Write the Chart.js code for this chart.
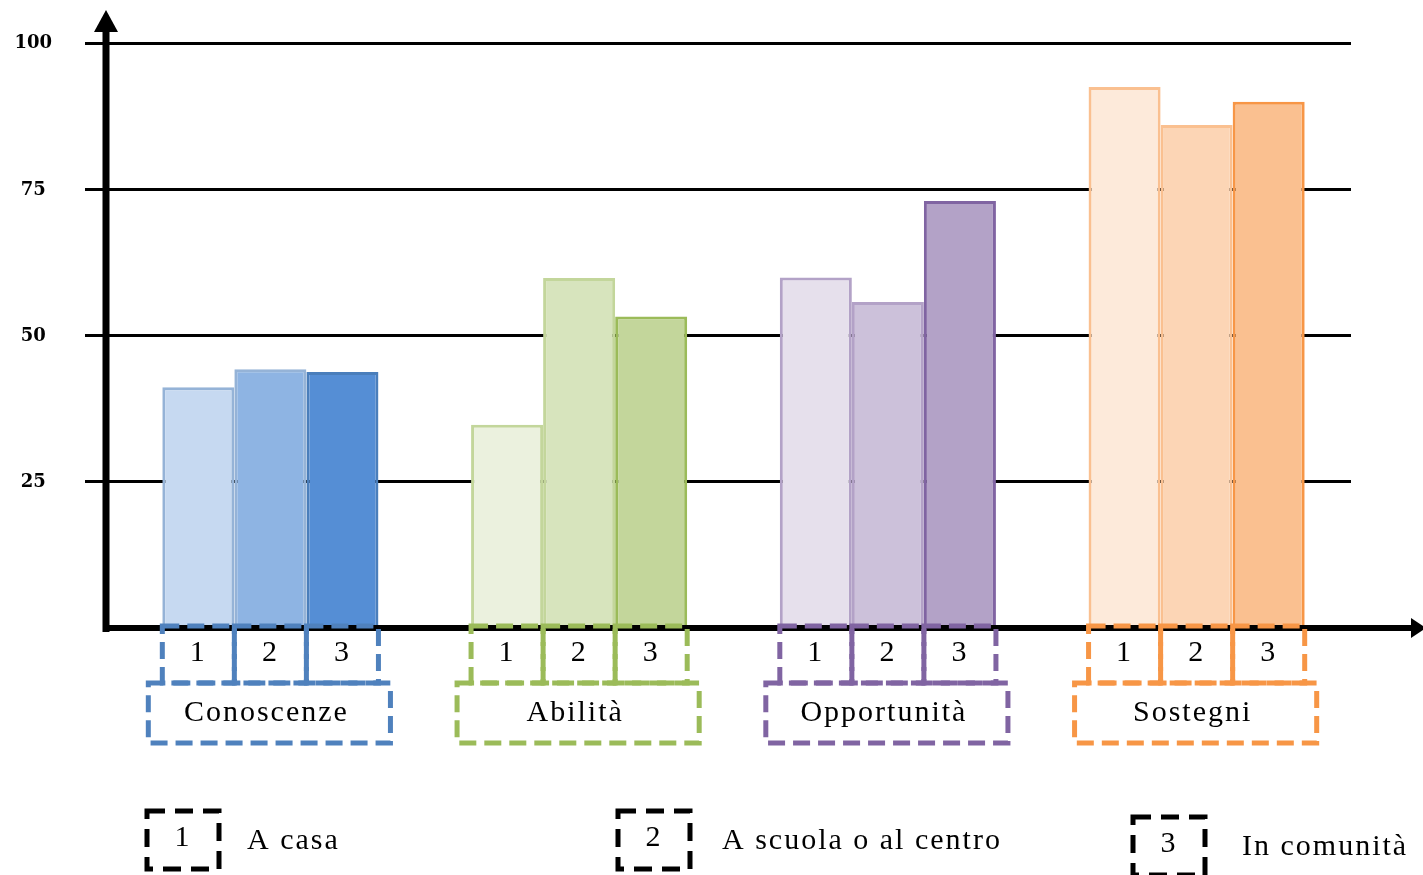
<!DOCTYPE html>
<html>
<head>
<meta charset="utf-8">
<script src="https://cdn.jsdelivr.net/npm/chart.js@4.4.0/dist/chart.umd.min.js"></script>
<style>
  html, body { margin: 0; padding: 0; background: #fff; }
  #wrap { width: 1423px; height: 875px; position: relative; }
</style>
</head>
<body>
<div id="wrap"><canvas id="chart"></canvas></div>
<script>
// categories and series
const categories = ['Conoscenze', 'Abilità', 'Opportunità', 'Sostegni'];
const seriesLabels = ['A casa', 'A scuola o al centro', 'In comunità'];
const aCasa = [41.2, 34.8, 60.0, 92.6];
const aScuola = [44.3, 59.9, 55.8, 86.1];
const inComunita = [43.8, 53.3, 73.1, 90.1];
const yTicks = [0, 25, 50, 75, 100];

// colours per category: light, mid, dark fill + outline colour
const fills = [
    ['#C6D9F1', '#8EB4E3', '#558ED5'],
    ['#EBF1DE', '#D7E4BD', '#C3D69B'],
    ['#E6E0EC', '#CCC1DA', '#B3A2C7'],
    ['#FDEADA', '#FCD5B5', '#FAC090']
];
const borders = [
    ['#95B3D7', '#95B3D7', '#4A7EBB'],
    ['#C3D69B', '#C3D69B', '#9BBB59'],
    ['#B3A2C7', '#B3A2C7', '#8064A2'],
    ['#FAC090', '#FAC090', '#F79646']
];
const dashColors = ['#4F81BD', '#9BBB59', '#8064A2', '#F79646'];

const serif = "'Liberation Serif', 'Times New Roman', serif";

function dashedBox(ctx, x, y, w, h, color, dash) {
    ctx.save();
    ctx.strokeStyle = color;
    ctx.lineWidth = 5;
    ctx.setLineDash(dash || [17, 8]);
    ctx.strokeRect(x, y, w, h);
    ctx.restore();
}

function label(ctx, text, x, y, align) {
    ctx.save();
    ctx.fillStyle = '#000';
    ctx.font = '30px ' + serif;
    ctx.letterSpacing = '2px';
    ctx.textAlign = align || 'center';
    ctx.textBaseline = 'middle';
    ctx.fillText(text, x, y);
    ctx.restore();
}

const decorations = {
    id: 'decorations',
    afterDraw(chart) {
        const ctx = chart.ctx;
        const area = chart.chartArea;
        const yAxisX = area.left - 10;

        // axes with arrow heads
        ctx.save();
        ctx.fillStyle = '#000';
        ctx.fillRect(yAxisX - 3.5, 28, 7, area.bottom - 24);
        ctx.beginPath();
        ctx.moveTo(yAxisX, 10);
        ctx.lineTo(yAxisX - 12, 32);
        ctx.lineTo(yAxisX + 12, 32);
        ctx.closePath();
        ctx.fill();
        ctx.fillRect(yAxisX - 3, area.bottom - 3, 1415 - yAxisX, 6);
        ctx.beginPath();
        ctx.moveTo(1426, area.bottom);
        ctx.lineTo(1411, area.bottom - 10);
        ctx.lineTo(1411, area.bottom + 10);
        ctx.closePath();
        ctx.fill();
        ctx.restore();

        // number boxes under each bar and category boxes
        const numTop = area.bottom - 2;
        const numH = 57;
        const catTop = numTop + numH;
        const catH = 60;
        categories.forEach((cat, j) => {
            let left = Infinity, right = -Infinity;
            chart.data.datasets.forEach((ds, i) => {
                const bar = chart.getDatasetMeta(i).data[j];
                const x0 = bar.x - bar.width / 2;
                left = Math.min(left, x0);
                right = Math.max(right, x0 + bar.width);
                dashedBox(ctx, x0, numTop, bar.width, numH, dashColors[j]);
                label(ctx, String(i + 1), bar.x, numTop + 27);
            });
            dashedBox(ctx, left - 14, catTop, right - left + 26, catH, dashColors[j]);
            label(ctx, cat, (left + right) / 2 - 4, catTop + 30);
        });

        // legend
        const legendX = [147, 618, 1133];
        const textGap = [100, 104, 109];
        seriesLabels.forEach((name, i) => {
            const bx = legendX[i];
            const by = 811 + (i === 2 ? 6 : 0);
            dashedBox(ctx, bx, by, 72, 58, '#000', [18, 10]);
            label(ctx, String(i + 1), bx + 36, by + 27);
            label(ctx, name, bx + textGap[i], by + 30, 'left');
        });
    }
};

const datasets = [aCasa, aScuola, inComunita].map((values, i) => ({
    label: seriesLabels[i],
    data: values,
    backgroundColor: fills.map(f => f[i]),
    borderColor: borders.map(b => b[i]),
    borderWidth: 3,
    categoryPercentage: 0.7,
    barPercentage: 1.0
}));

new Chart(document.getElementById('chart'), {
    type: 'bar',
    data: { labels: categories, datasets: datasets },
    options: {
        responsive: true,
        maintainAspectRatio: false,
        animation: false,
        layout: { padding: { left: 16, right: 72, top: 42, bottom: 247 } },
        plugins: {
            legend: { display: false },
            tooltip: { enabled: false }
        },
        scales: {
            x: { display: false },
            y: {
                min: 0,
                max: 100,
                afterBuildTicks: scale => {
                    scale.ticks = yTicks.map(v => ({ value: v }));
                },
                afterFit: scale => { scale.width = 100; },
                border: { display: false },
                grid: {
                    color: c => (c.tick && c.tick.value === 0) ? 'rgba(0,0,0,0)' : '#000',
                    lineWidth: 3,
                    tickLength: 31
                },
                ticks: {
                    callback: v => v === 0 ? '' : v,
                    color: '#000',
                    crossAlign: 'center',
                    padding: 33,
                    font: { family: "'DejaVu Serif', serif", size: 18, weight: 'bold' }
                }
            }
        }
    },
    plugins: [decorations]
});
</script>
</body>
</html>
